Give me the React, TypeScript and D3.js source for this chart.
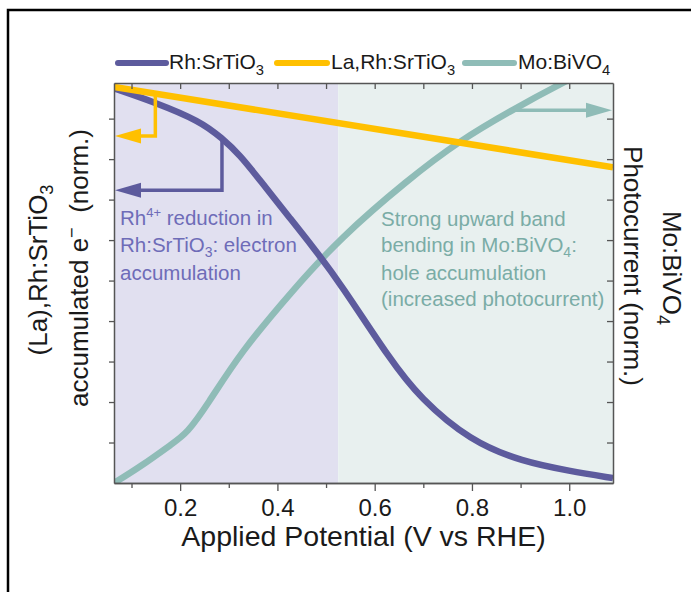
import React, { useRef, useEffect } from 'react';
import * as d3 from 'd3';

// curves (potential in V vs RHE, normalised values)
const rhPotential = [0.064, 0.149, 0.241, 0.286, 0.323, 0.364, 0.426, 0.473, 0.529, 0.632, 0.693, 0.796, 0.905, 1.0, 1.09];
const rhSrTiO3 = [0.975, 0.94, 0.894, 0.852, 0.81, 0.748, 0.654, 0.583, 0.494, 0.304, 0.21, 0.104, 0.052, 0.03, 0.012];

const laRhPotential = [0.064, 1.09];
const laRhSrTiO3 = [0.978, 0.78];

const moPotential = [0.064, 0.118, 0.186, 0.214, 0.256, 0.323, 0.432, 0.529, 0.667, 0.776, 0.885, 0.985, 1.09];
const moBiVO4 = [0.0, 0.04, 0.099, 0.123, 0.193, 0.321, 0.477, 0.605, 0.748, 0.847, 0.923, 0.988, 1.05];

const xTicks = [0.2, 0.4, 0.6, 0.8, 1.0];
const xMinorTicks = [0.1, 0.3, 0.5, 0.7, 0.9];
const yTicks = [0.1, 0.2, 0.3, 0.4, 0.5, 0.6, 0.7, 0.8, 0.9];
const regionSplit = 0.525; // where the shading changes colour

const FONT = "'Liberation Sans', Arial, sans-serif";
const PURPLE = '#5d5b9d';
const YELLOW = '#ffc000';
const TEAL = '#8fbcb7';

const App = () => {
    const axesRef = useRef<SVGGElement>(null);

    const x = d3.scaleLinear().domain([0.064, 1.09]).range([114, 613]);
    const y = d3.scaleLinear().domain([0, 0.988]).range([483, 83]);

    const mkLine = (xs: number[], ys: number[], curve: d3.CurveFactory = d3.curveBasis) =>
        d3.line<number>()
            .x((_, i) => x(xs[i]))
            .y(d => y(d))
            .curve(curve)(ys) || '';

    useEffect(() => {
        const g = d3.select(axesRef.current);
        const blank = () => '';

        g.select('.x-axis')
            .attr('transform', 'translate(0,483)')
            .call(d3.axisBottom(x).tickValues(xTicks).tickSize(8).tickSizeOuter(0).tickPadding(8).tickFormat(d3.format('.1f')) as any);
        g.select('.x-minor')
            .attr('transform', 'translate(0,483)')
            .call(d3.axisBottom(x).tickValues(xMinorTicks).tickSize(5).tickSizeOuter(0).tickFormat(blank) as any);
        g.select('.x-top')
            .attr('transform', 'translate(0,83)')
            .call(d3.axisTop(x).tickValues([...xMinorTicks, ...xTicks]).tickSize(-6).tickSizeOuter(0).tickFormat(blank) as any);
        g.select('.y-left')
            .attr('transform', 'translate(114,0)')
            .call(d3.axisLeft(y).tickValues(yTicks).tickSize(5).tickSizeOuter(0).tickFormat(blank) as any);
        g.select('.y-right')
            .attr('transform', 'translate(613,0)')
            .call(d3.axisRight(y).tickValues(yTicks).tickSize(-6).tickSizeOuter(0).tickFormat(blank) as any);

        g.selectAll('.domain').attr('stroke', '#555').attr('stroke-width', 1.5);
        g.selectAll('.tick line').attr('stroke', '#555').attr('stroke-width', 1.3);
        g.selectAll('.tick text')
            .attr('font-family', FONT)
            .attr('font-size', 24)
            .attr('fill', '#1a1a1a');
    }, []);

    // arrows: [path points in data units], colour, direction of the head
    const laStartV = 0.149;
    const laStartY = d3.scaleLinear().domain(laRhPotential).range(laRhSrTiO3)(laStartV);
    const arrows = [
        { pts: [[laStartV, laStartY], [laStartV, 0.857], [x.domain()[0], 0.857]], color: YELLOW, dir: -1 },
        { pts: [[0.286, 0.852], [0.286, 0.723], [x.domain()[0], 0.723]], color: PURPLE, dir: -1 },
        { pts: [[0.885, 0.921], [x.domain()[1], 0.921]], color: TEAL, dir: 1 },
    ];

    const arrowHead = (tipX: number, tipY: number, dir: number) => {
        const len = 26, half = 7.5;
        return `M${tipX},${tipY} L${tipX - dir * len},${tipY - half} L${tipX - dir * len},${tipY + half} Z`;
    };

    const subStyle = { fontSize: '0.7em' };

    return (
        <svg width={691} height={592} style={{ position: 'absolute', left: 0, top: 0, display: 'block' }}>
            <rect x={8} y={10} width={720} height={640} fill="none" stroke="#000" strokeWidth={2.5} />

            <defs>
                <clipPath id="plot-clip">
                    <rect x={114} y={83} width={499} height={400} />
                </clipPath>
            </defs>

            {/* shaded regions */}
            <rect x={x(x.domain()[0])} y={y(y.domain()[1])} width={x(regionSplit) - x(x.domain()[0])} height={y(0) - y(y.domain()[1])} fill="#e1e0f0" />
            <rect x={x(regionSplit)} y={y(y.domain()[1])} width={x(x.domain()[1]) - x(regionSplit)} height={y(0) - y(y.domain()[1])} fill="#e8f0ef" />

            {/* annotation text */}
            <g fontFamily={FONT} fontSize={20.5} fill="#6e6cb8">
                <text x={120} y={225}>Rh<tspan dy={-8} fontSize={13}>4+</tspan><tspan dy={8}> reduction in</tspan></text>
                <text x={120} y={252}>Rh:SrTiO<tspan dy={5} fontSize={14}>3</tspan><tspan dy={-5}>: electron</tspan></text>
                <text x={120} y={280}>accumulation</text>
            </g>
            <g fontFamily={FONT} fontSize={20.5} fill="#7aaca6">
                <text x={381} y={226}>Strong upward band</text>
                <text x={381} y={252}>bending in Mo:BiVO<tspan dy={5} fontSize={14}>4</tspan><tspan dy={-5}>:</tspan></text>
                <text x={381} y={280}>hole accumulation</text>
                <text x={381} y={306}>(increased photocurrent)</text>
            </g>

            <g clipPath="url(#plot-clip)">
                <path d={mkLine(moPotential, moBiVO4)} fill="none" stroke={TEAL} strokeWidth={6.5} />
                <path d={mkLine(rhPotential, rhSrTiO3)} fill="none" stroke={PURPLE} strokeWidth={6.5} />
                <path d={mkLine(laRhPotential, laRhSrTiO3, d3.curveLinear)} fill="none" stroke={YELLOW} strokeWidth={6.5} />
                {arrows.map((a, i) => {
                    const px = a.pts.map(p => [x(p[0]), y(p[1])]);
                    const tip = px[px.length - 1];
                    const shaft = px.slice();
                    shaft[shaft.length - 1] = [tip[0] - a.dir * 20, tip[1]];
                    return (
                        <g key={i}>
                            <polyline points={shaft.map(p => p.join(',')).join(' ')} fill="none" stroke={a.color} strokeWidth={3.5} />
                            <path d={arrowHead(tip[0] + a.dir * -1, tip[1], a.dir)} fill={a.color} />
                        </g>
                    );
                })}
            </g>

            <g ref={axesRef}>
                <g className="x-axis" />
                <g className="x-minor" />
                <g className="x-top" />
                <g className="y-left" />
                <g className="y-right" />
            </g>

            {/* legend */}
            <g fontFamily={FONT} fontSize={21} fill="#1a1a1a">
                <line x1={118} x2={166} y1={63} y2={63} stroke={PURPLE} strokeWidth={6} strokeLinecap="round" />
                <text x={169} y={69}>Rh:SrTiO<tspan dy={6} style={subStyle}>3</tspan></text>
                <line x1={277} x2={327} y1={63} y2={63} stroke={YELLOW} strokeWidth={6} strokeLinecap="round" />
                <text x={331} y={69}>La,Rh:SrTiO<tspan dy={6} style={subStyle}>3</tspan></text>
                <line x1={465} x2={514} y1={63} y2={63} stroke={TEAL} strokeWidth={6} strokeLinecap="round" />
                <text x={518} y={69}>Mo:BiVO<tspan dy={6} style={subStyle}>4</tspan></text>
            </g>

            {/* axis titles */}
            <text x={363.5} y={546} textAnchor="middle" fontFamily={FONT} fontSize={28.5} fill="#1a1a1a">
                Applied Potential (V vs RHE)
            </text>
            <g fontFamily={FONT} fontSize={26} fill="#1a1a1a" textAnchor="middle">
                <text transform="translate(47,270) rotate(-90)">(La),Rh:SrTiO<tspan dy={6} style={subStyle}>3</tspan></text>
                <text transform="translate(88,268) rotate(-90)">accumulated e<tspan dy={-10} style={subStyle}>−</tspan><tspan dy={10}>{'\u00a0 (norm.)'}</tspan></text>
                <text transform="translate(624,266) rotate(90)">Photocurrent (norm.)</text>
                <text transform="translate(663,268) rotate(90)">Mo:BiVO<tspan dy={6} style={subStyle}>4</tspan></text>
            </g>
        </svg>
    );
};

export default App;
